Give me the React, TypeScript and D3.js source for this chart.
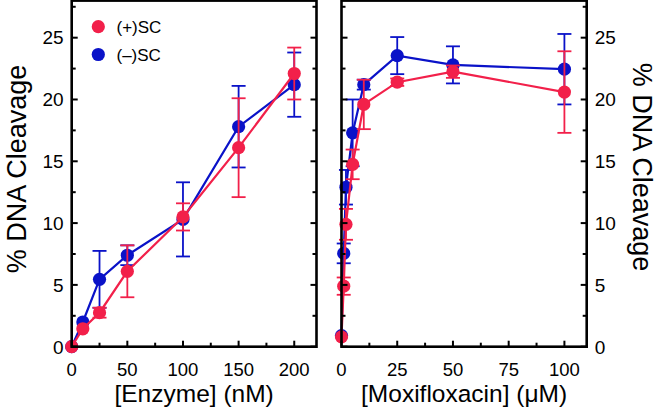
import React from "react";
import * as d3 from "d3";

const enzyme = [0, 10, 25, 50, 100, 150, 200];
const enzPlus = [0, 1.45, 2.75, 6.1, 10.5, 16.1, 22.1];
const enzPlusErr = [0, 0, 0.4, 2.1, 1.1, 4.0, 2.1];
const enzMinus = [0, 2.0, 5.45, 7.4, 10.3, 17.8, 21.2];
const enzMinusErr = [0, 0, 2.3, 0.8, 3.0, 3.3, 2.6];

const moxi = [0, 1, 2, 5, 10, 25, 50, 100];
const moxPlus = [0.8, 4.9, 9.9, 14.75, 19.6, 21.4, 22.25, 20.6];
const moxPlusErr = [0, 0.7, 1.25, 1.2, 2.0, 0.3, 0.5, 3.3];
const moxMinus = [0.9, 7.55, 12.9, 17.3, 21.2, 23.55, 22.8, 22.45];
const moxMinusErr = [0, 0.8, 1.4, 2.7, 0.4, 1.5, 1.5, 2.85];

const yTicks = [0, 5, 10, 15, 20, 25];
const yMinor = [2.5, 7.5, 12.5, 17.5, 22.5, 27.5];
const enzTicks = [0, 50, 100, 150, 200];
const enzMinor = [25, 75, 125, 175];
const moxTicks = [0, 25, 50, 75, 100];
const moxMinor = [12.5, 37.5, 62.5, 87.5];

const seriesNames = ["(+)SC", "(–)SC"];
const RED = "#F2204A";
const BLUE = "#0A12C8";
const FONT = "'Liberation Sans', Arial, sans-serif";

const Y_TOP = 0.6;
const Y_BOT = 346.7;

type PanelProps = {
  x0: number;
  x1: number;
  domainMax: number;
  xs: number[];
  plus: number[];
  plusErr: number[];
  minus: number[];
  minusErr: number[];
  ticks: number[];
  minor: number[];
  xTitle: string;
  labelsRight: boolean;
};

function Series({ xs, ys, err, color, x, y }: any) {
  const line = d3
    .line<number>()
    .x((_, i) => x(xs[i]))
    .y((d) => y(d));
  return (
    <g>
      <path d={line(ys) || ""} fill="none" stroke={color} strokeWidth={2.2} />
      {ys.map((v: number, i: number) =>
        err[i] > 0 ? (
          <g key={"e" + i} stroke={color} strokeWidth={1.8}>
            <line x1={x(xs[i])} x2={x(xs[i])} y1={y(v - err[i])} y2={y(v + err[i])} />
            <line x1={x(xs[i]) - 7} x2={x(xs[i]) + 7} y1={y(v - err[i])} y2={y(v - err[i])} />
            <line x1={x(xs[i]) - 7} x2={x(xs[i]) + 7} y1={y(v + err[i])} y2={y(v + err[i])} />
          </g>
        ) : null
      )}
      {ys.map((v: number, i: number) => (
        <circle key={"c" + i} cx={x(xs[i])} cy={y(v)} r={6.6} fill={color} />
      ))}
    </g>
  );
}

function Panel(p: PanelProps) {
  const x = d3.scaleLinear().domain([0, p.domainMax]).range([p.x0, p.x1]);
  const y = d3.scaleLinear().domain([0, 28]).range([Y_BOT, Y_TOP]);
  const maj = 6;
  const mn = 4;
  return (
    <g>
      <Series xs={p.xs} ys={p.minus} err={p.minusErr} color={BLUE} x={x} y={y} />
      <Series xs={p.xs} ys={p.plus} err={p.plusErr} color={RED} x={x} y={y} />
      <g stroke="#000" strokeWidth={2}>
        {yTicks.map((t) => (
          <g key={"yt" + t}>
            <line x1={p.x0} x2={p.x0 + maj} y1={y(t)} y2={y(t)} />
            <line x1={p.x1} x2={p.x1 - maj} y1={y(t)} y2={y(t)} />
          </g>
        ))}
        {yMinor.map((t) => (
          <g key={"ym" + t}>
            <line x1={p.x0} x2={p.x0 + mn} y1={y(t)} y2={y(t)} />
            <line x1={p.x1} x2={p.x1 - mn} y1={y(t)} y2={y(t)} />
          </g>
        ))}
        {p.ticks.map((t) => (
          <line key={"xt" + t} x1={x(t)} x2={x(t)} y1={Y_BOT} y2={Y_BOT - maj} />
        ))}
        {p.minor.map((t) => (
          <line key={"xm" + t} x1={x(t)} x2={x(t)} y1={Y_BOT} y2={Y_BOT - mn} />
        ))}
      </g>
      <rect
        x={p.x0}
        y={Y_TOP}
        width={p.x1 - p.x0}
        height={Y_BOT - Y_TOP}
        fill="none"
        stroke="#000"
        strokeWidth={2.6}
      />
      <g fontFamily={FONT} fontSize={19} fill="#000">
        {yTicks.map((t) => (
          <text
            key={"yl" + t}
            x={p.labelsRight ? p.x1 + 8 : p.x0 - 8}
            y={y(t) + 6.8}
            textAnchor={p.labelsRight ? "start" : "end"}
          >
            {t}
          </text>
        ))}
      </g>
      <g fontFamily={FONT} fontSize={18.5} fill="#000">
        {p.ticks.map((t) => (
          <text key={"xl" + t} x={x(t)} y={375.5} textAnchor="middle">
            {t}
          </text>
        ))}
      </g>
      <text
        x={(p.x0 + p.x1) / 2}
        y={402}
        textAnchor="middle"
        fontFamily={FONT}
        fontSize={24.5}
      >
        {p.xTitle}
      </text>
      <text
        transform={
          p.labelsRight ? "translate(633,167) rotate(90)" : "translate(26,169) rotate(-90)"
        }
        textAnchor="middle"
        fontFamily={FONT}
        fontSize={27}
      >
        % DNA Cleavage
      </text>
    </g>
  );
}

export default function App() {
  return (
    <svg
      width={659}
      height={410}
      style={{ position: "absolute", left: 0, top: 0, background: "#fff" }}
    >
      <rect x={0} y={0} width={659} height={410} fill="#fff" />
      <Panel
        x0={71.7}
        x1={316.5}
        domainMax={220}
        xs={enzyme}
        plus={enzPlus}
        plusErr={enzPlusErr}
        minus={enzMinus}
        minusErr={enzMinusErr}
        ticks={enzTicks}
        minor={enzMinor}
        xTitle="[Enzyme] (nM)"
        labelsRight={false}
      />
      <Panel
        x0={341.5}
        x1={586.7}
        domainMax={110}
        xs={moxi}
        plus={moxPlus}
        plusErr={moxPlusErr}
        minus={moxMinus}
        minusErr={moxMinusErr}
        ticks={moxTicks}
        minor={moxMinor}
        xTitle="[Moxifloxacin] (μM)"
        labelsRight={true}
      />
      <g fontFamily={FONT} fontSize={17}>
        <circle cx={98.3} cy={26.7} r={6.6} fill={RED} />
        <text x={116.5} y={33}>{seriesNames[0]}</text>
        <circle cx={98.3} cy={54.5} r={6.6} fill={BLUE} />
        <text x={116.5} y={61}>{seriesNames[1]}</text>
      </g>
    </svg>
  );
}
